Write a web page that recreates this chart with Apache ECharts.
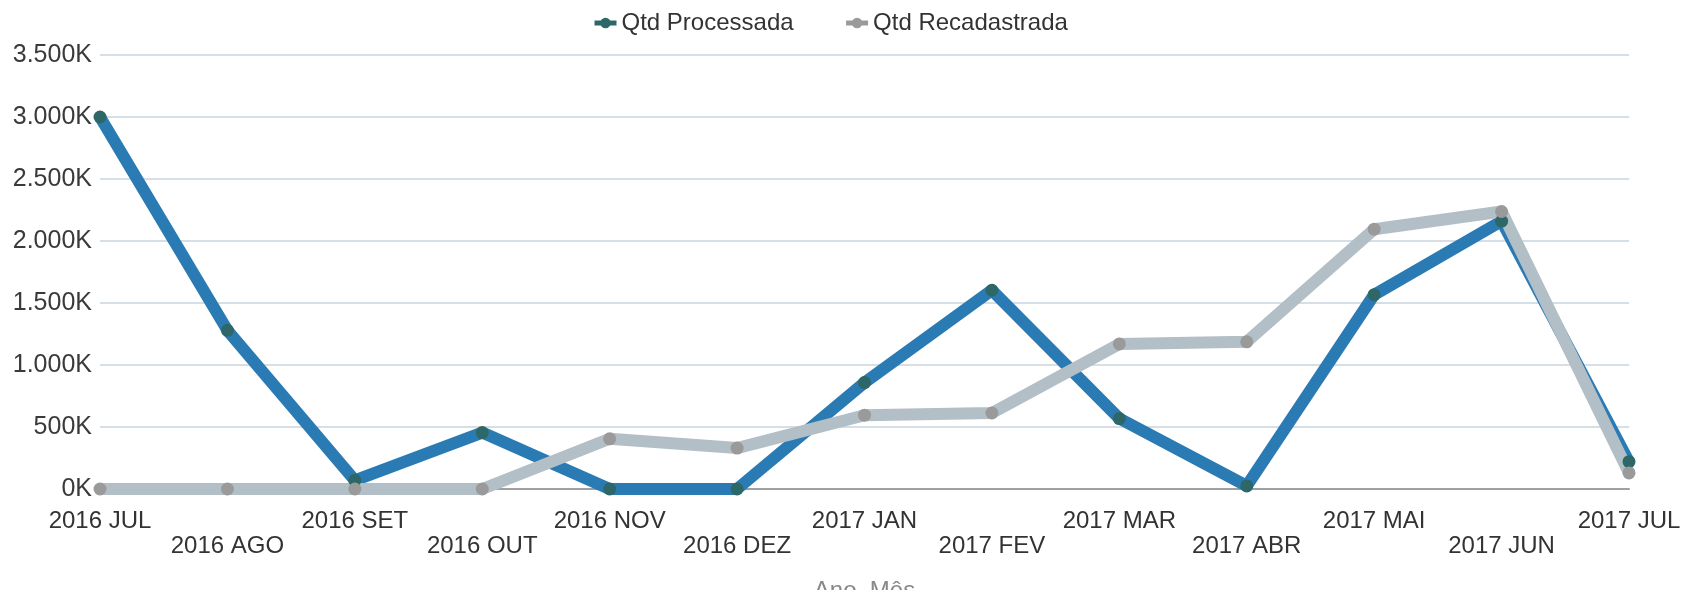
<!DOCTYPE html>
<html>
<head>
<meta charset="utf-8">
<script src="https://cdn.jsdelivr.net/npm/echarts@6/dist/echarts.min.js"></script>
<style>
html,body{margin:0;padding:0;background:#fff;}
#chart{width:1684px;height:590px;}
</style>
</head>
<body>
<div id="chart"></div>
<script>
const categories = ['2016 JUL','2016 AGO','2016 SET','2016 OUT','2016 NOV','2016 DEZ','2017 JAN','2017 FEV','2017 MAR','2017 ABR','2017 MAI','2017 JUN','2017 JUL'];
const qtdProcessada = [3000000,1280000,70000,455000,0,0,858000,1603000,568000,25000,1567000,2160000,220000];
const qtdRecadastrada = [0,0,0,0,405000,330000,595000,613000,1170000,1187000,2095000,2238000,130000];
const seriesNames = ['Qtd Processada','Qtd Recadastrada'];
const yMin = 0, yMax = 3500000, yStep = 500000;

function fmtK(v){
  const k = Math.round(v/1000);
  return String(k).replace(/\B(?=(\d{3})+(?!\d))/g,'.') + 'K';
}

const FONT = '"Liberation Sans", Arial, sans-serif';
const chart = echarts.init(document.getElementById('chart'), null, {renderer:'canvas'});
chart.setOption({
  animation:false,
  textStyle:{fontFamily:FONT},
  grid:{left:100,right:55,top:55,bottom:101,containLabel:false,outerBoundsMode:'none'},
  legend:{
    top:6,left:587,itemGap:50,itemWidth:22,itemHeight:13,
    textStyle:{fontFamily:FONT,fontSize:24,color:'#333'},
    data:[
      {name:seriesNames[0],itemStyle:{color:'#2e6767'},lineStyle:{color:'#2e6767',width:5}},
      {name:seriesNames[1],itemStyle:{color:'#9a9a9a'},lineStyle:{color:'#9a9a9a',width:5}}
    ]
  },
  xAxis:{
    type:'category',data:categories,boundaryGap:false,
    name:'Ano, Mês',nameLocation:'middle',nameGap:90,
    nameTextStyle:{fontFamily:FONT,fontSize:24,color:'#888'},
    axisLine:{lineStyle:{color:'#a0a0a0',width:2}},
    axisTick:{show:false},
    axisLabel:{interval:0,margin:20,fontSize:24,lineHeight:25,color:'#333',fontFamily:FONT,
      formatter:function(v,i){return i%2 ? '\n'+v : v;}}
  },
  yAxis:{
    type:'value',min:yMin,max:yMax,interval:yStep,
    axisLine:{show:false},axisTick:{show:false},
    axisLabel:{margin:8,fontSize:25,color:'#3a3a3a',fontFamily:FONT,formatter:fmtK},
    splitLine:{lineStyle:{color:'#c9d3de',width:1.5}}
  },
  series:[
    {name:seriesNames[0],type:'line',data:qtdProcessada,symbol:'circle',symbolSize:13,
      itemStyle:{color:'#2e6767'},lineStyle:{color:'#2a7bb4',width:12}},
    {name:seriesNames[1],type:'line',data:qtdRecadastrada,symbol:'circle',symbolSize:13,
      itemStyle:{color:'#9a9a9a'},lineStyle:{color:'#b2bfc6',width:12}}
  ]
});
</script>
</body>
</html>
